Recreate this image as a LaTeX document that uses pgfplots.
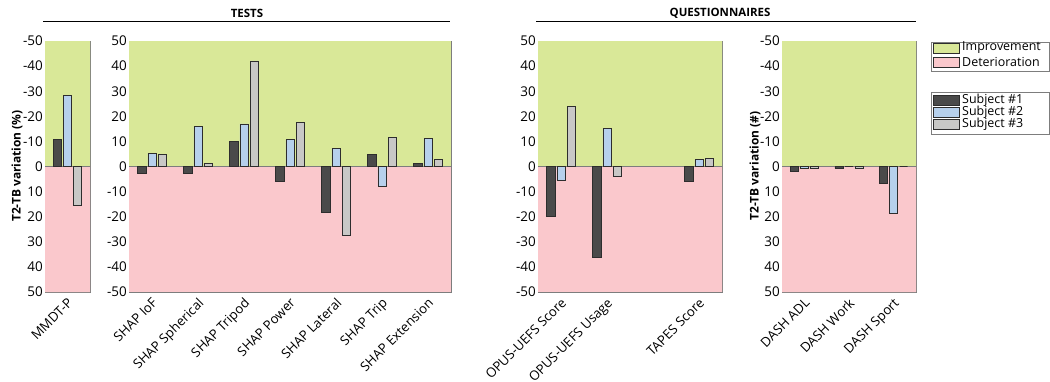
\documentclass[border=0pt]{standalone}
\usepackage{fontspec}
\setmainfont{Open Sans}
\usepackage{pgfplots}
\pgfplotsset{compat=1.18}
\definecolor{impr}{RGB}{217,232,152}
\definecolor{deter}{RGB}{250,200,204}
\definecolor{sa}{RGB}{74,74,74}
\definecolor{sb}{RGB}{182,208,236}
\definecolor{sc}{RGB}{200,200,198}
\definecolor{edge}{RGB}{45,45,45}
\definecolor{axc}{RGB}{125,125,125}
\pgfplotsset{
  panel/.style={
    scale only axis, height=251bp, anchor=south west,
    ymin=-50, ymax=50, ytick={-50,-40,...,50},
    axis line style={axc}, tick style={axc}, major tick length=3bp,
    tick align=inside,
    /pgf/number format/assume math mode=true,
    yticklabel style={font=\fontsize{13.5}{15}\selectfont, text=black, inner sep=2bp},
    xticklabel style={font=\fontsize{13.2}{14}\selectfont, rotate=45, anchor=north east, inner sep=1bp, xshift=-3bp, yshift=-2bp, text=black},
    xtick=data,
  },
  sA/.style={ybar, bar width=0.18, bar shift=0pt, fill=sa, draw=edge, line width=0.5bp},
  sB/.style={ybar, bar width=0.18, bar shift=0pt, fill=sb, draw=edge, line width=0.5bp},
  sC/.style={ybar, bar width=0.18, bar shift=0pt, fill=sc, draw=edge, line width=0.5bp},
}
\begin{document}
\begin{tikzpicture}
\path[use as bounding box] (0,0) rectangle (1050bp,382bp);
% headers
\node[font=\bfseries\fontsize{11.5}{14}\selectfont] at (247bp,369bp) {TESTS};
\draw[black, line width=0.8bp] (43bp,361bp) -- (450bp,361bp);
\node[font=\bfseries\fontsize{11.5}{14}\selectfont] at (720bp,369bp) {QUESTIONNAIRES};
\draw[black, line width=0.8bp] (536bp,361bp) -- (916bp,361bp);
% y labels
\node[rotate=90, font=\bfseries\fontsize{12}{14}\selectfont] at (17bp,216bp) {T2-TB variation (\%)};
\node[rotate=90, font=\bfseries\fontsize{12}{14}\selectfont] at (755bp,216bp) {T2-TB variation (\#)};

% Panel 1: MMDT-P (reversed)
\begin{axis}[panel, at={(45bp,90bp)}, width=45bp, xmin=0.5, xmax=1.5, y dir=reverse,
  xtick={1}, xticklabels={MMDT-P}]
\addplot[draw=none, fill=impr, forget plot] coordinates {(0.5,0) (0.5,-50) (1.5,-50) (1.5,0)} \closedcycle;
\addplot[draw=none, fill=deter, forget plot] coordinates {(0.5,0) (0.5,50) (1.5,50) (1.5,0)} \closedcycle;
\addplot[axc, forget plot] coordinates {(0.5,0) (1.5,0)};
\addplot[sA] coordinates {(0.775,-11)};
\addplot[sB] coordinates {(1.0,-28.5)};
\addplot[sC] coordinates {(1.225,15.5)};
\end{axis}

% Panel 2: SHAP
\begin{axis}[panel, at={(129bp,90bp)}, width=322bp, xmin=0.5, xmax=7.5,
  xtick={1,...,7}, xticklabels={SHAP IoF,SHAP Spherical,SHAP Tripod,SHAP Power,SHAP Lateral,SHAP Trip,SHAP Extension}]
\addplot[draw=none, fill=impr, forget plot] coordinates {(0.5,0) (0.5,50) (7.5,50) (7.5,0)} \closedcycle;
\addplot[draw=none, fill=deter, forget plot] coordinates {(0.5,0) (0.5,-50) (7.5,-50) (7.5,0)} \closedcycle;
\addplot[axc, forget plot] coordinates {(0.5,0) (7.5,0)};
\addplot[sA] coordinates {(0.775,-2.8) (1.775,-2.8) (2.775,10.1) (3.775,-5.7) (4.775,-18.1) (5.775,4.7) (6.775,1.3)};
\addplot[sB] coordinates {(1,5.3) (2,16.0) (3,17.0) (4,10.7) (5,7.3) (6,-7.9) (7,11.3)};
\addplot[sC] coordinates {(1.225,4.9) (2.225,1.2) (3.225,42.1) (4.225,17.6) (5.225,-27.5) (6.225,11.7) (7.225,2.8)};
\end{axis}

% Panel 3: OPUS / TAPES
\begin{axis}[panel, at={(538bp,90bp)}, width=184bp, xmin=0.5, xmax=4.5,
  xtick={1,2,4}, xticklabels={OPUS-UEFS Score,OPUS-UEFS Usage,TAPES Score}]
\addplot[draw=none, fill=impr, forget plot] coordinates {(0.5,0) (0.5,50) (4.5,50) (4.5,0)} \closedcycle;
\addplot[draw=none, fill=deter, forget plot] coordinates {(0.5,0) (0.5,-50) (4.5,-50) (4.5,0)} \closedcycle;
\addplot[axc, forget plot] coordinates {(0.5,0) (4.5,0)};
\addplot[sA] coordinates {(0.775,-19.7) (1.775,-36.1) (3.775,-5.7)};
\addplot[sB] coordinates {(1,-5.3) (2,15.1) (4,2.7)};
\addplot[sC] coordinates {(1.225,24.0) (2.225,-3.9) (4.225,3.3)};
\end{axis}

% Panel 4: DASH (reversed)
\begin{axis}[panel, at={(782bp,90bp)}, width=134bp, xmin=0.5, xmax=3.5, y dir=reverse,
  xtick={1,2,3}, xticklabels={DASH ADL,DASH Work,DASH Sport}]
\addplot[draw=none, fill=impr, forget plot] coordinates {(0.5,0) (0.5,-50) (3.5,-50) (3.5,0)} \closedcycle;
\addplot[draw=none, fill=deter, forget plot] coordinates {(0.5,0) (0.5,50) (3.5,50) (3.5,0)} \closedcycle;
\addplot[axc, forget plot] coordinates {(0.5,0) (3.5,0)};
\addplot[sA] coordinates {(0.775,1.9) (1.775,0.7) (2.775,6.8)};
\addplot[sB] coordinates {(1,0.7) (2,0) (3,18.7)};
\addplot[sC] coordinates {(1.225,0.7) (2.225,0.7) (3.225,0)};
\end{axis}

% legends
\begin{scope}[font=\fontsize{12.5}{14}\selectfont]
\draw[axc, fill=white, line width=0.5bp] (931bp,311bp) rectangle (1049bp,340bp);
\draw[edge, fill=impr, line width=0.5bp] (933bp,329bp) rectangle (959bp,339bp);
\node[anchor=west, inner sep=0pt] at (962bp,334bp) {Improvement};
\draw[edge, fill=deter, line width=0.5bp] (933bp,315bp) rectangle (959bp,325bp);
\node[anchor=west, inner sep=0pt] at (962bp,320bp) {Deterioration};

\draw[axc, fill=white, line width=0.5bp] (931bp,248bp) rectangle (1049bp,290bp);
\draw[edge, fill=sa, line width=0.5bp] (933bp,277bp) rectangle (959bp,287bp);
\node[anchor=west, inner sep=0pt] at (962bp,282bp) {Subject \#1};
\draw[edge, fill=sb, line width=0.5bp] (933bp,265bp) rectangle (959bp,275bp);
\node[anchor=west, inner sep=0pt] at (962bp,270bp) {Subject \#2};
\draw[edge, fill=sc, line width=0.5bp] (933bp,253bp) rectangle (959bp,263bp);
\node[anchor=west, inner sep=0pt] at (962bp,258bp) {Subject \#3};
\end{scope}
\end{tikzpicture}
\end{document}
